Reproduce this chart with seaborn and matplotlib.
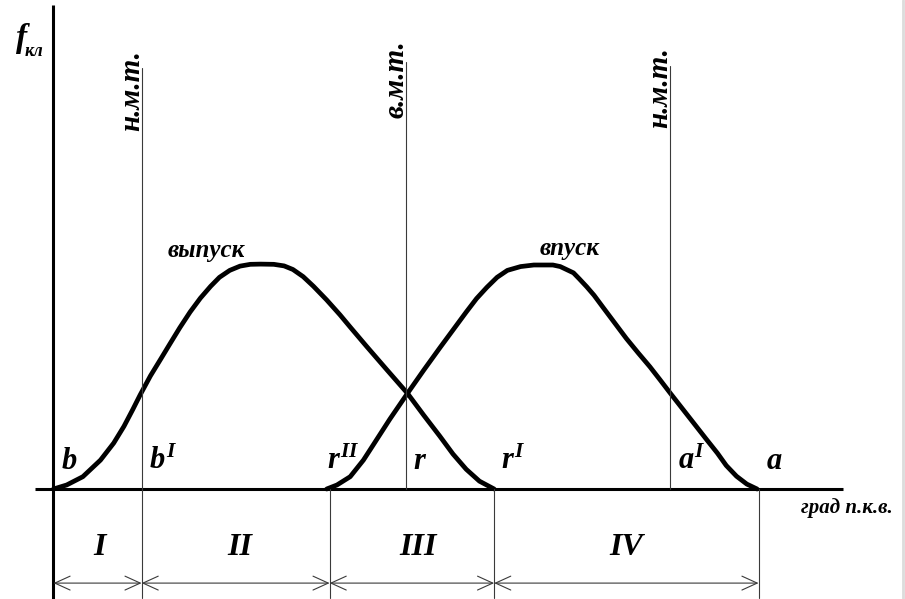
import matplotlib
matplotlib.use("Agg")
import matplotlib.pyplot as plt
from matplotlib.lines import Line2D
import seaborn as sns
import pandas as pd

# Valve lift diagram: crank angle (deg) vs. valve lift
exhaust_deg = [120, 129, 140, 152, 161, 168, 174, 179, 186, 193, 199, 206, 213, 220,
               227, 233, 240, 247, 254, 261, 270, 277, 283, 290, 297, 306, 315, 322,
               333, 347, 361, 372, 383, 392, 401, 410, 420]
exhaust_lift = [0, 0.18, 0.55, 1.29, 2.05, 2.8, 3.55, 4.2, 5.05, 5.8, 6.45, 7.2, 7.9,
                8.52, 9.05, 9.45, 9.76, 9.95, 10.03, 10.04, 10.03, 9.96, 9.8, 9.48, 9.05,
                8.44, 7.78, 7.23, 6.38, 5.32, 4.27, 3.3, 2.36, 1.56, 0.88, 0.35, 0]

intake_deg = [306, 313, 322, 331, 338, 349, 361, 372, 383, 392, 401, 408, 415, 422,
              429, 438, 447, 460, 465, 474, 478, 483, 488, 494, 502, 510, 518, 526,
              533, 540, 548, 556, 564, 572, 578, 585, 592, 599]
intake_lift = [0, 0.18, 0.55, 1.29, 2.0, 3.12, 4.27, 5.3, 6.3, 7.1, 7.9, 8.5, 9.0,
               9.45, 9.76, 9.93, 10.0, 10.0, 9.93, 9.65, 9.38, 9.03, 8.65, 8.12, 7.42,
               6.72, 6.08, 5.46, 4.87, 4.27, 3.6, 2.93, 2.26, 1.6, 1.05, 0.57, 0.22, 0]

# dead centres
dead_centre_deg = [180, 360, 540]
dead_centre_names = ["н.м.т.", "в.м.т.", "н.м.т."]

# characteristic points on the angle axis and where their names sit
point_names = [r"$b$", r"$b^{I}$", r"$r^{II}$", r"$r$", r"$r^{I}$", r"$a^{I}$", r"$a$"]
point_label_deg = [125, 185, 306, 365, 425, 545, 605]

# phase intervals
phase_names = ["I", "II", "III", "IV"]
phase_bounds = [120, 180, 308, 420, 600]

sns.set_theme(style="white")
plt.rcParams["font.family"] = ["Liberation Serif", "DejaVu Serif"]
plt.rcParams["text.color"] = "black"
plt.rcParams["mathtext.fontset"] = "custom"
plt.rcParams["mathtext.it"] = "Liberation Serif:italic:bold"
plt.rcParams["mathtext.rm"] = "Liberation Serif:bold"
plt.rcParams["mathtext.bf"] = "Liberation Serif:bold"

fig = plt.figure(figsize=(9.05, 5.99), dpi=100)
ax = fig.add_axes([0, 0, 1, 1])

thin = dict(color="#3a3a3a", lw=0.8)
ybot = -4.85

# axes of the diagram
ax.plot([120, 120], [ybot - 0.2, 21.6], color="black", lw=2.2, solid_capstyle="butt")
ax.plot([107.7, 657.5], [0, 0], color="black", lw=2.2, solid_capstyle="butt")

# valve lift curves
df_ex = pd.DataFrame({"deg": exhaust_deg, "lift": exhaust_lift})
df_in = pd.DataFrame({"deg": intake_deg, "lift": intake_lift})
for df in (df_ex, df_in):
    sns.lineplot(data=df, x="deg", y="lift", sort=False, estimator=None, ax=ax,
                 color="black", lw=3.4, solid_capstyle="round", solid_joinstyle="round")
ax.set_xlim(83.6, 699.7)
ax.set_ylim(-4.91, 21.83)
ax.axis("off")

# dead centre lines
tops = [18.8, 19.06, 18.9]
bottoms = [ybot, 0, 0]
label_y = [17.8, 18.3, 17.9]
for d, name, t, b, ly in zip(dead_centre_deg, dead_centre_names, tops, bottoms, label_y):
    ax.plot([d, d], [b, t], **thin)
    ax.text(d - 7, ly, name, rotation=90, ha="center", va="center",
            fontsize=21, fontweight="bold", fontstyle="italic")

# extension lines for phase boundaries
for d in phase_bounds[2:]:
    ax.plot([d, d], [0, ybot], **thin)

# phase dimension arrows
arrow_y = -4.2
for x0, x1 in zip(phase_bounds[:-1], phase_bounds[1:]):
    ax.annotate("", xy=(x1, arrow_y), xytext=(x0, arrow_y),
                arrowprops=dict(arrowstyle="<->,head_length=0.55,head_width=0.25",
                                color="#3a3a3a", lw=0.8, shrinkA=0, shrinkB=0,
                                mutation_scale=20))
phase_x = [151.7, 247, 368, 510]
for name, x in zip(phase_names, phase_x):
    ax.text(x, -2.63, name, ha="center", va="center", fontsize=23,
            fontweight="bold", fontstyle="italic")

# point labels
for name, d in zip(point_names, point_label_deg):
    ax.text(d, 0.9, name, ha="left", va="baseline", fontsize=22)

# curve names
ax.text(198, 10.36, "выпуск", ha="left", va="baseline", fontsize=18,
        fontweight="bold", fontstyle="italic")
ax.text(451, 10.45, "впуск", ha="left", va="baseline", fontsize=18,
        fontweight="bold", fontstyle="italic")

# axis titles
ax.text(629, -0.85, "град п.к.в.", ha="left", va="center", fontsize=15,
        fontweight="bold", fontstyle="italic")
ax.text(98.6, 20.1, "f", ha="center", va="center", fontsize=24,
        fontweight="bold", fontstyle="italic")
ax.text(107.0, 19.55, "кл", ha="center", va="center", fontsize=13,
        fontweight="bold", fontstyle="italic")

# light frame edge on the right
fig.add_artist(Line2D([0.9975, 0.9975], [0, 1], transform=fig.transFigure,
                      color="#dcdcdc", lw=2))

fig.savefig("out.png", dpi=100)
